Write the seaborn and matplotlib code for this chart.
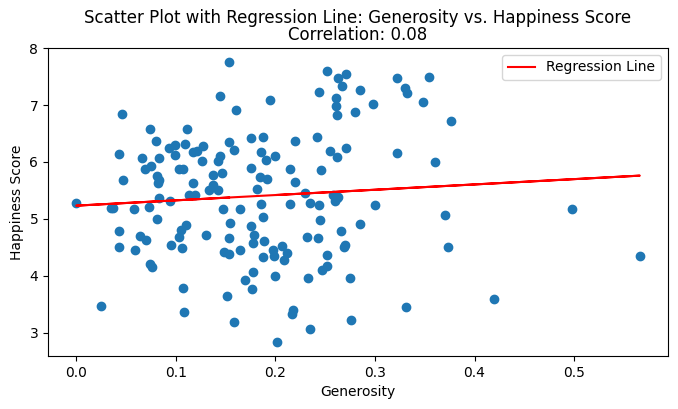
import matplotlib
matplotlib.use("Agg")
import matplotlib.pyplot as plt
import numpy as np
import seaborn as sns

# values
generosity = [
    0.000, 0.025, 0.035, 0.037, 0.043, 0.043, 0.043, 0.046, 0.047, 0.058,
    0.059, 0.064, 0.066, 0.069, 0.070, 0.073, 0.074, 0.074, 0.075, 0.076,
    0.080, 0.081, 0.081, 0.082, 0.083, 0.083, 0.083, 0.093, 0.094, 0.095,
    0.099, 0.099, 0.103, 0.103, 0.105, 0.106, 0.107, 0.107, 0.108, 0.109,
    0.110, 0.111, 0.113, 0.117, 0.117, 0.119, 0.121, 0.126, 0.127, 0.130,
    0.133, 0.137, 0.137, 0.1425, 0.1425, 0.1445, 0.1445, 0.146, 0.1475, 0.1485,
    0.1515, 0.1535, 0.1535, 0.1535, 0.1535, 0.1545, 0.1585, 0.1585, 0.160, 0.1645,
    0.1645, 0.1695, 0.1755, 0.1755, 0.1755, 0.1765, 0.1775, 0.1775, 0.1785, 0.1815,
    0.1846, 0.1856, 0.1856, 0.1876, 0.1876, 0.1876, 0.1886, 0.1906, 0.1916, 0.1946,
    0.1976, 0.1986, 0.1996, 0.1996, 0.2016, 0.2066, 0.2086, 0.2116, 0.2146, 0.2146,
    0.2166, 0.2181, 0.2197, 0.2197, 0.2297, 0.2317, 0.2327, 0.2347, 0.2347, 0.2417,
    0.2427, 0.2437, 0.2437, 0.2447, 0.2457, 0.2467, 0.2515, 0.2518, 0.2518, 0.2548,
    0.2578, 0.2598, 0.2610, 0.2610, 0.2618, 0.2618, 0.2620, 0.2628, 0.2630, 0.2658,
    0.2670, 0.2688, 0.2698, 0.2708, 0.2710, 0.2748, 0.2758, 0.2800, 0.2849, 0.2850,
    0.2980, 0.2999, 0.3220, 0.3220, 0.3300, 0.3310, 0.3320, 0.3480, 0.3540, 0.3600,
    0.3700, 0.3730, 0.3760, 0.4200, 0.4980, 0.5660,
]
happiness = [
    5.28, 3.47, 5.19, 5.20, 6.14, 4.79, 4.51, 6.84, 5.68, 5.18,
    4.46, 4.70, 6.07, 5.88, 4.63, 5.21, 6.58, 4.21, 5.93, 4.16,
    6.37, 5.75, 5.00, 5.63, 6.07, 5.68, 5.37, 6.25, 5.32, 4.54,
    6.30, 6.12, 5.88, 4.68, 4.81, 4.49, 5.88, 3.79, 3.37, 6.32,
    4.89, 6.58, 5.42, 6.175, 5.63, 5.42, 6.19, 6.02, 6.28, 4.72,
    5.51, 5.77, 5.60, 6.02, 5.51, 7.16, 6.105, 5.81, 5.18, 4.42,
    3.65, 7.755, 6.35, 4.67, 4.39, 4.93, 6.21, 3.19, 6.91, 5.18,
    4.46, 3.93, 6.42, 5.89, 4.88, 3.77, 4.58, 4.07, 4.72, 5.53,
    5.74, 6.18, 5.26, 6.44, 5.04, 4.33, 4.62, 6.04, 5.70, 7.09,
    4.46, 4.35, 6.11, 4.00, 2.84, 4.53, 4.28, 4.40, 5.88, 5.26,
    3.33, 3.40, 6.37, 5.65, 5.46, 4.68, 3.96, 5.28, 3.07, 6.44,
    4.67, 7.23, 5.25, 4.98, 5.86, 4.11, 7.60, 4.37, 4.18, 6.19,
    5.42, 5.32, 7.12, 6.98, 6.09, 5.37, 6.82, 5.39, 7.47, 4.79,
    7.33, 4.51, 4.54, 6.25, 7.54, 3.96, 3.23, 6.88, 4.91, 7.26,
    7.02, 5.25, 7.47, 6.16, 7.30, 3.46, 7.21, 7.05, 7.50, 6.00,
    5.07, 4.51, 6.72, 3.60, 5.17, 4.35,
]

fig = plt.figure(figsize=(6.78, 4.09), dpi=100)
ax = fig.add_axes([48 / 678, 1 - 356 / 409, 620 / 678, 308 / 409])

sns.scatterplot(x=generosity, y=happiness, s=36, color="#1f77b4", edgecolor="#1f77b4", linewidth=1.0, ax=ax)

# straight fit through the points, drawn in happiness order so the path runs back and forth
slope, intercept = np.polyfit(generosity, happiness, 1)
x = np.array(generosity)[np.argsort(happiness)]
ax.plot(x, slope * x + intercept, color="red", label="Regression Line")

ax.set_title(
    "Scatter Plot with Regression Line: Generosity vs. Happiness Score\nCorrelation: 0.08",
    linespacing=0.9,
)
ax.set_xlabel("Generosity")
ax.set_ylabel("Happiness Score")
ax.legend()

plt.savefig("out.png", dpi=100)
